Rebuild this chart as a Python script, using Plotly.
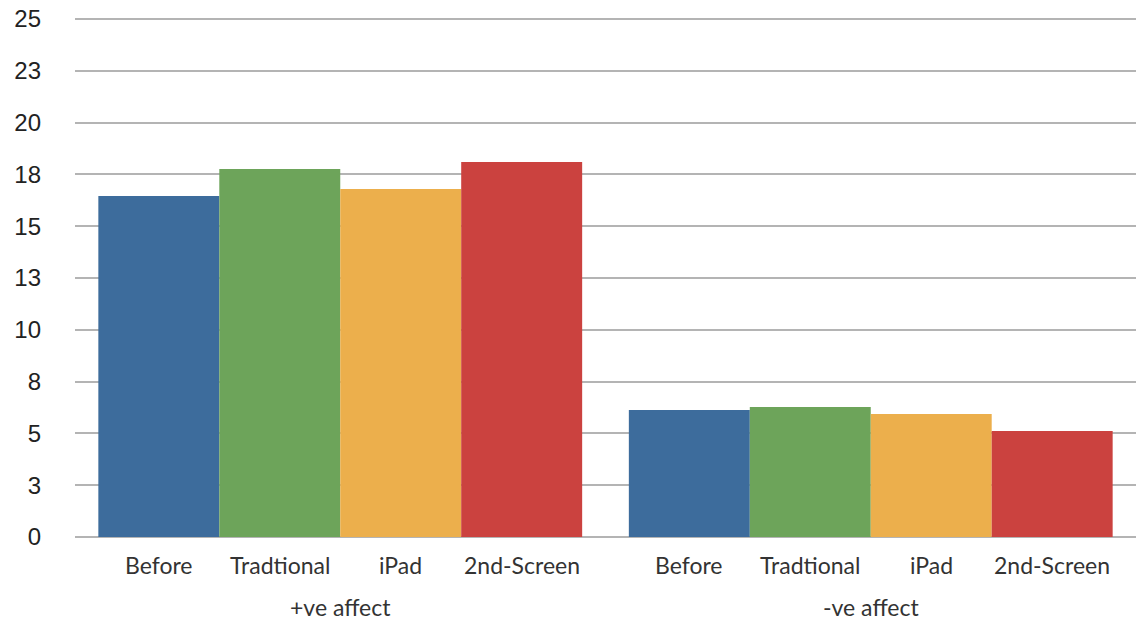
import plotly.graph_objects as go

groups = ["+ve affect", "-ve affect"]
series = ["Before", "Tradtional", "iPad", "2nd-Screen"]
values = {
    "Before": [16.46, 6.13],
    "Tradtional": [17.76, 6.27],
    "iPad": [16.80, 5.94],
    "2nd-Screen": [18.10, 5.12],
}
colors = {
    "Before": "#3D6C9C",
    "Tradtional": "#6DA45A",
    "iPad": "#ECAF4C",
    "2nd-Screen": "#CB423F",
}
ytick_vals = [0, 2.5, 5, 7.5, 10, 12.5, 15, 17.5, 20, 22.5, 25]
ytick_text = ["0", "3", "5", "8", "10", "13", "15", "18", "20", "23", "25"]

bargap = 0.088
label_font = dict(family="Lato", size=23, color="#333333")

fig = go.Figure()
for s in series:
    fig.add_trace(go.Bar(x=groups, y=values[s], name=s,
                         marker=dict(color=colors[s], line=dict(width=0))))

# bar labels under each bar
w = (1 - bargap) / len(series)
for g in range(len(groups)):
    for i, s in enumerate(series):
        xc = g - 0.5 + bargap / 2 + (i + 0.5) * w
        fig.add_annotation(x=xc, y=0, xref="x", yref="paper", text=s,
                           showarrow=False, yanchor="middle", yshift=-28,
                           font=label_font)
    # group label
    fig.add_annotation(x=g, y=0, xref="x", yref="paper", text=groups[g],
                       showarrow=False, yanchor="middle", yshift=-70,
                       font=label_font)

fig.update_layout(
    width=1136, height=621,
    margin=dict(l=75, r=0, t=17, b=84),
    paper_bgcolor="white", plot_bgcolor="white",
    barmode="group", bargap=bargap, bargroupgap=0,
    showlegend=False,
    xaxis=dict(showgrid=False, showline=False, zeroline=False,
               showticklabels=False, ticks="", automargin=False),
    yaxis=dict(range=[0, 25.1], tickvals=ytick_vals, ticktext=ytick_text,
               showgrid=True, gridcolor="#b4b4b4", gridwidth=2,
               zeroline=True, zerolinecolor="#b4b4b4", zerolinewidth=2,
               showline=False, ticks="", automargin=False,
               ticklabeloverflow="allow",
               tickfont=dict(family="Liberation Sans", size=24, color="#222222"),
               ticklabelstandoff=33),
)

fig.write_html("out.html",
               config={"displayModeBar": False},
               post_script="document.body.style.margin='0';document.body.style.overflow='hidden';")
